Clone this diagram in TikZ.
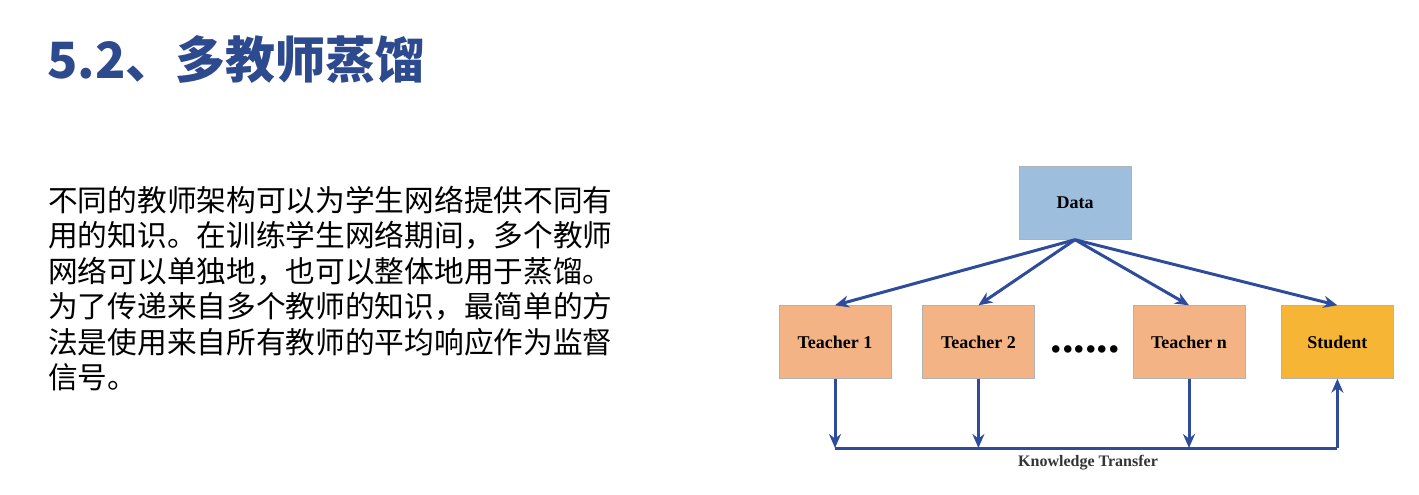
\documentclass[tikz,border=0pt]{standalone}
\usepackage{fontspec}
\newfontfamily\cjk{Noto Sans CJK SC}
\newfontfamily\boxfont{Liberation Serif}
\usetikzlibrary{positioning}
\usetikzlibrary{arrows.meta}
\definecolor{titleblue}{HTML}{2E4A8E}
\definecolor{linkblue}{HTML}{2F4C9C}
\definecolor{datafill}{HTML}{9DBFDD}
\definecolor{teacherfill}{HTML}{F4B384}
\definecolor{studentfill}{HTML}{F7B536}
\tikzset{x=1pt, y=-1pt, % one unit is one pixel of the slide
box/.style={ % Sets the properties for each block
draw=white!70!black, line width=0.4pt,
minimum width=112pt, minimum height=73pt,
font=\boxfont\bfseries\fontsize{18}{20}\selectfont},
link/.style={draw=linkblue, line width=3pt},
every edge/.style={ % Sets the properties for each link
link,
-{Stealth[length=14pt,width=12pt]}}}

\begin{document}
\begin{tikzpicture}
					\useasboundingbox (0,0) rectangle (1419,495);

					\node[anchor=west, text=titleblue, font=\cjk\bfseries\fontsize{50}{56}\selectfont] (title) at (44,60) {5.2、多教师蒸馏};
					\node[anchor=north west, align=left, inner sep=0pt, font=\cjk\fontsize{29.7}{35.4}\selectfont] (body) at (48,186)
						{不同的教师架构可以为学生网络提供不同有\\用的知识。在训练学生网络期间，多个教师\\网络可以单独地，也可以整体地用于蒸馏。\\为了传递来自多个教师的知识，最简单的方\\法是使用来自所有教师的平均响应作为监督\\信号。};

					\node[box, fill=datafill] (data) at (1075,203) {Data};
					\node[box, fill=teacherfill] (t1) at (835,342) {Teacher 1};
					\node[box, fill=teacherfill, right=31pt of t1] (t2) {Teacher 2};
					\node[box, fill=teacherfill] (tn) at (1189,342) {Teacher n};
					\node[box, fill=studentfill, right=36pt of tn] (st) {Student};
					\node[font=\boxfont\bfseries\fontsize{46}{46}\selectfont] (dots) at (1085,349) {......};

					\coordinate (k1) at (t1.south |- 0,448);
					\coordinate (k2) at (t2.south |- 0,448);
					\coordinate (kn) at (tn.south |- 0,448);
					\coordinate (ks) at (st.south |- 0,448);

					\draw (data.south) edge (t1.north);
					\draw (data.south) edge (t2.north);
					\draw (data.south) edge (tn.north);
					\draw (data.south) edge (st.north);

					\draw (t1.south) edge (k1);
					\draw (t2.south) edge (k2);
					\draw (tn.south) edge (kn);
					\draw[link] (k1) -- (ks);
					\draw (ks) edge (st.south);

					\node[font=\boxfont\bfseries\fontsize{16}{18}\selectfont, text=black!80] (kt) at (1088,463) {Knowledge Transfer};
				\end{tikzpicture}
\end{document}
